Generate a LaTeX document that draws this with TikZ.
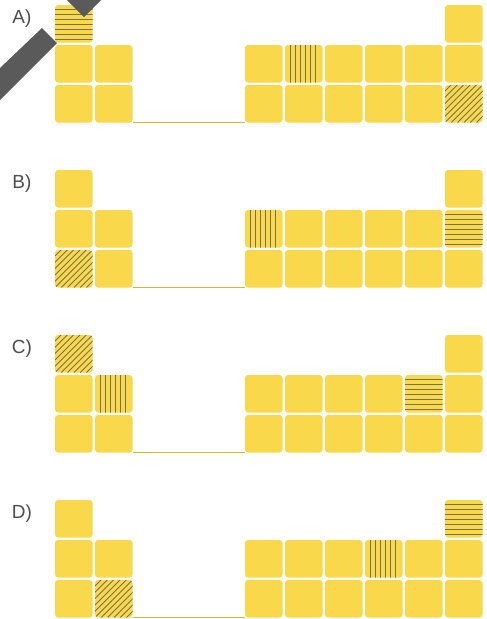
\documentclass[tikz,border=0pt]{standalone}
\usepackage{fontspec}
\setmainfont{Liberation Sans}
\definecolor{celly}{HTML}{F9D84C}
\definecolor{hatchc}{HTML}{77724F}
\definecolor{basec}{HTML}{D2B936}
\definecolor{penc}{HTML}{5A5A5A}
\definecolor{labc}{HTML}{4D4D4D}
\tikzset{
  cell/.style={rectangle, rounded corners=3pt, fill=celly, minimum size=37.5pt, inner sep=0pt},
  hl/.style={draw=hatchc, line width=0.9pt},
  hh/.style={path picture={\foreach \i in {1,...,7}{\draw[hl] ([yshift=-\i*5pt+1pt]path picture bounding box.north west) -- ++(40pt,0pt);}}},
  hv/.style={path picture={\foreach \i in {1,...,6}{\draw[hl] ([xshift=\i*5pt]path picture bounding box.north west) -- ++(0pt,-40pt);}}},
  hd/.style={path picture={\foreach \i in {-7,...,7}{\draw[hl] ([xshift=\i*6.3pt]path picture bounding box.south west) -- ++(45pt,45pt);}}},
  labl/.style={text=labc, font=\fontsize{19}{22}\selectfont, inner sep=0pt},
  basel/.style={draw=basec, line width=1.5pt},
  pen/.style={fill=penc, draw=none},
  hatAL00/.style=hh, hatAR11/.style=hv, hatAR52/.style=hd,
  hatBL02/.style=hd, hatBR01/.style=hv, hatBR51/.style=hh,
  hatCL00/.style=hd, hatCL11/.style=hv, hatCR41/.style=hh,
  hatDR50/.style=hh, hatDR31/.style=hv, hatDL12/.style=hd,
}
\begin{document}
\begin{tikzpicture}[x=1pt,y=-1pt]
\useasboundingbox (0,0) rectangle (487,619);
\fill[white] (0,0) rectangle (487,619);
\foreach \p/\T in {A/5,B/170,C/335,D/500}{
  \node[labl] (lab\p) at (22,{\T+14}) {\p)};
  \foreach \c/\r in {0/0,0/1,0/2,1/1,1/2}{
    \node[cell, hat\p L\c\r/.try] (\p L\c\r) at ({55+40*\c+18.75},{\T+40*\r+18.75}) {};
  }
  \foreach \c in {0,...,5}{
    \foreach \r in {1,2}{
      \node[cell, hat\p R\c\r/.try] (\p R\c\r) at ({245+40*\c+18.75},{\T+40*\r+18.75}) {};
    }
  }
  \node[cell, hat\p R50/.try] (\p R50) at ({245+200+18.75},{\T+18.75}) {};
  \draw[basel] (\p L12.south east) -- (\p R02.south west);
}
% pen shapes in panel A
\fill[pen] (0,68) -- (42,28) -- (57,43) -- (0,100) -- cycle;
\fill[pen] (67,0) -- (84,17) -- (101,0) -- cycle;
\end{tikzpicture}
\end{document}
